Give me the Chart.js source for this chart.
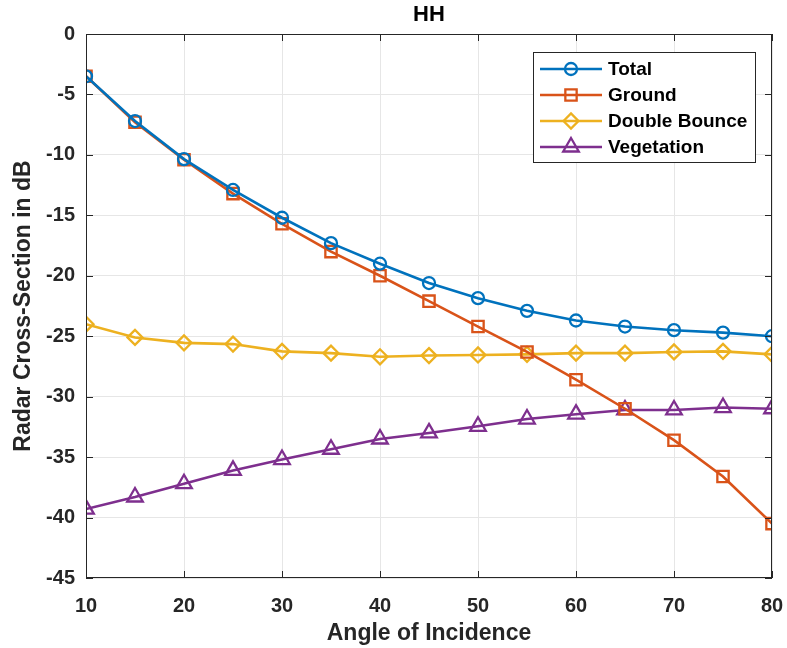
<!DOCTYPE html>
<html>
<head>
<meta charset="utf-8">
<style>
  html, body { margin: 0; padding: 0; background: #fff; }
  #wrap { width: 787px; height: 648px; }
</style>
</head>
<body>
<div id="wrap"><canvas id="myChart" width="787" height="648"></canvas></div>
<script src="https://cdn.jsdelivr.net/npm/chart.js"></script>
<script>
const angles = [10, 15, 20, 25, 30, 35, 40, 45, 50, 55, 60, 65, 70, 75, 80]
const total = [-3.5, -7.2, -10.35, -12.9, -15.2, -17.3, -19.0, -20.6, -21.85, -22.9, -23.7, -24.2, -24.5, -24.7, -25.0]
const ground = [-3.5, -7.3, -10.4, -13.2, -15.7, -18.0, -20.0, -22.1, -24.2, -26.3, -28.6, -31.0, -33.6, -36.6, -40.5]
const doubleBounce = [-24.0, -25.1, -25.55, -25.65, -26.25, -26.4, -26.7, -26.6, -26.55, -26.5, -26.4, -26.4, -26.3, -26.25, -26.5]
const vegetation = [-39.3, -38.3, -37.2, -36.1, -35.2, -34.35, -33.5, -33.0, -32.45, -31.85, -31.45, -31.1, -31.1, -30.9, -31.0]
const xTicks = [10, 20, 30, 40, 50, 60, 70, 80]
const yTicks = [0, -5, -10, -15, -20, -25, -30, -35, -40, -45]

const font = 'Liberation Sans, Arial, Helvetica, sans-serif'
const ink = '#262626'

const markerSize = {circle: 6, rect: 8, rectRot: 7.5, triangle: 9}

function series(label, values, color, style){
  return {
    label: label,
    data: values.map((v, i)=>({x: angles[i], y: v})),
    borderColor: color,
    backgroundColor: 'rgba(0,0,0,0)',
    borderWidth: 2.6,
    pointStyle: style,
    pointRadius: markerSize[style],
    pointBorderWidth: 2.3,
    pointBackgroundColor: 'rgba(0,0,0,0)',
    pointBorderColor: color,
    tension: 0
  }
}

// box, inner ticks, title and legend drawn the MATLAB way
const matlabFrame = {
  id: 'matlabFrame',
  afterDraw(chart){
    const {ctx, chartArea: a, scales} = chart
    ctx.save()
    ctx.strokeStyle = ink
    ctx.lineWidth = 1
    ctx.strokeRect(a.left + 0.5, a.top + 0.5, a.right - a.left - 1, a.bottom - a.top - 1)
    ctx.beginPath()
    xTicks.forEach(t=>{
      const px = Math.round(scales.x.getPixelForValue(t)) + 0.5
      ctx.moveTo(px, a.bottom); ctx.lineTo(px, a.bottom - 7)
      ctx.moveTo(px, a.top); ctx.lineTo(px, a.top + 7)
    })
    yTicks.forEach(t=>{
      const py = Math.round(scales.y.getPixelForValue(t)) + 0.5
      ctx.moveTo(a.left, py); ctx.lineTo(a.left + 7, py)
      ctx.moveTo(a.right, py); ctx.lineTo(a.right - 7, py)
    })
    ctx.stroke()

    // title
    ctx.fillStyle = '#000'
    ctx.font = 'bold 22px ' + font
    ctx.textAlign = 'center'
    ctx.textBaseline = 'middle'
    ctx.fillText('HH', (a.left + a.right) / 2, 15)

    // legend
    const bx = 533, by = 52, bw = 222, bh = 110
    ctx.fillStyle = '#fff'
    ctx.fillRect(bx, by, bw, bh)
    ctx.strokeStyle = ink
    ctx.lineWidth = 1
    ctx.strokeRect(bx + 0.5, by + 0.5, bw, bh)
    ctx.font = 'bold 19px ' + font
    ctx.textAlign = 'left'
    chart.data.datasets.forEach((ds, i)=>{
      const y = 69 + i * 26
      ctx.strokeStyle = ds.borderColor
      ctx.lineWidth = ds.borderWidth
      ctx.beginPath()
      ctx.moveTo(540, y); ctx.lineTo(602, y)
      ctx.stroke()
      ctx.fillStyle = 'rgba(0,0,0,0)'
      ctx.lineWidth = ds.pointBorderWidth
      Chart.helpers.drawPoint(ctx, {pointStyle: ds.pointStyle, radius: ds.pointRadius, rotation: 0, borderWidth: ds.pointBorderWidth}, 571, y)
      ctx.fillStyle = '#000'
      ctx.fillText(ds.label, 608, y + 1)
    })
    ctx.restore()
  }
}

const config = {
  type: 'line',
  data: {
    datasets: [
      series('Total', total, '#0072BD', 'circle'),
      series('Ground', ground, '#D95319', 'rect'),
      series('Double Bounce', doubleBounce, '#EDB120', 'rectRot'),
      series('Vegetation', vegetation, '#7E2F8E', 'triangle')
    ]
  },
  options: {
    responsive: false,
    animation: false,
    layout: {padding: {top: 34, right: 15, left: 0, bottom: 0}},
    plugins: {
      legend: {display: false},
      title: {display: false},
      tooltip: {enabled: false}
    },
    scales: {
      x: {
        type: 'linear',
        min: 10, max: 80,
        afterFit: s=>{ s.height = 70; s.paddingLeft = 0; s.paddingRight = 0 },
        afterBuildTicks: s=>{ s.ticks = xTicks.map(v=>({value: v})) },
        grid: {color: '#e6e6e6', drawTicks: false},
        border: {display: false},
        ticks: {color: ink, padding: 16, font: {family: font, size: 20, weight: 'bold'}},
        title: {display: true, text: 'Angle of Incidence', color: ink, padding: {top: 2, bottom: 1}, font: {family: font, size: 23, weight: 'bold'}}
      },
      y: {
        min: -45, max: 0,
        afterFit: s=>{ s.width = 86; s.paddingTop = 0; s.paddingBottom = 0 },
        afterBuildTicks: s=>{ s.ticks = yTicks.map(v=>({value: v})) },
        grid: {color: '#e6e6e6', drawTicks: false},
        border: {display: false},
        ticks: {color: ink, padding: 11, font: {family: font, size: 20, weight: 'bold'}},
        title: {display: true, text: 'Radar Cross-Section in dB', color: ink, padding: {top: 10, bottom: 0}, font: {family: font, size: 23, weight: 'bold'}}
      }
    }
  },
  plugins: [matlabFrame]
}

new Chart(document.getElementById('myChart'), config)
</script>
</body>
</html>
